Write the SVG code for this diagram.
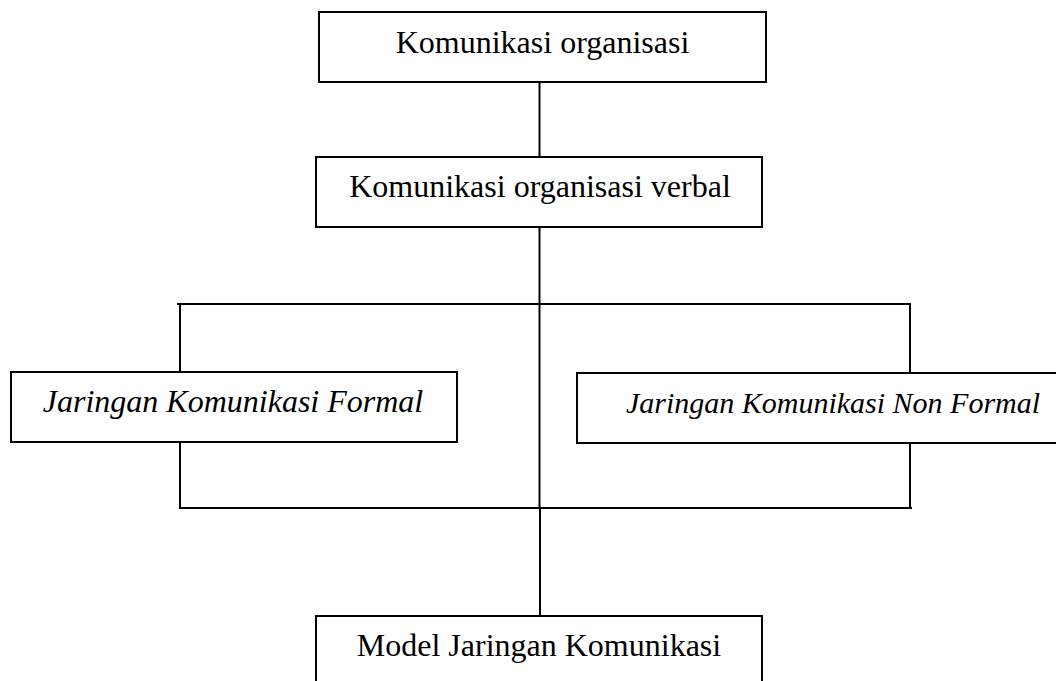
<svg xmlns="http://www.w3.org/2000/svg" width="1056" height="681" viewBox="0 0 1056 681">
<style>
.box{fill:#fff;stroke:#000;stroke-width:2}
.t{font-family:"Liberation Serif","Times New Roman",serif;font-size:32px;fill:#000;text-anchor:middle}
.i{font-style:italic}
.s30{font-size:30px}
.c{stroke:#000;stroke-width:2;fill:none}
</style>
<rect width="1056" height="681" fill="#fff"/>
<g id="connectors">
<line class="c" x1="539.5" y1="82" x2="539.5" y2="157"/>
<line class="c" x1="539.5" y1="227" x2="539.5" y2="508"/>
<line class="c" x1="177" y1="304" x2="911" y2="304"/>
<line class="c" x1="180" y1="305" x2="180" y2="372"/>
<line class="c" x1="910" y1="304" x2="910" y2="373"/>
<line class="c" x1="180" y1="442" x2="180" y2="508"/>
<line class="c" x1="910" y1="443" x2="910" y2="508"/>
<line class="c" x1="179" y1="508" x2="912" y2="508"/>
<line class="c" x1="540" y1="508" x2="540" y2="616"/>
</g>
<g id="node-komunikasi-organisasi">
<rect class="box" x="319" y="12" width="447" height="70"/>
<text class="t" x="542.5" y="53">Komunikasi organisasi</text>
</g>
<g id="node-verbal">
<rect class="box" x="316" y="157" width="446" height="70"/>
<text class="t" x="540" y="197">Komunikasi organisasi verbal</text>
</g>
<g id="node-formal">
<rect class="box" x="11" y="372" width="446" height="70"/>
<text class="t i" x="233" y="412">Jaringan Komunikasi Formal</text>
</g>
<g id="node-nonformal">
<rect class="box" x="577" y="373" width="500" height="70"/>
<text class="t i s30" x="833" y="413">Jaringan Komunikasi Non Formal</text>
</g>
<g id="node-model">
<rect class="box" x="316" y="616" width="446" height="80"/>
<text class="t" x="539" y="656">Model Jaringan Komunikasi</text>
</g>
</svg>
